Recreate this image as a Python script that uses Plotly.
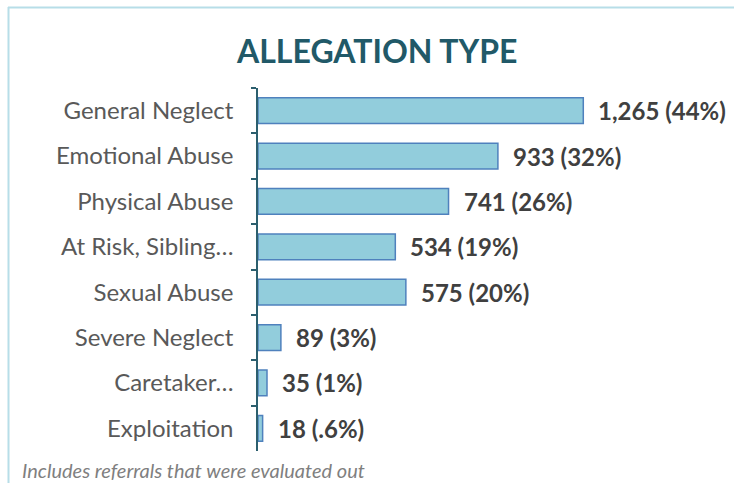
import plotly.graph_objects as go

categories = ["General Neglect", "Emotional Abuse", "Physical Abuse", "At Risk, Sibling…",
              "Sexual Abuse", "Severe Neglect", "Caretaker…", "Exploitation"]
counts = [1265, 933, 741, 534, 575, 89, 35, 18]
value_labels = ["1,265 (44%)", "933 (32%)", "741 (26%)", "534 (19%)",
                "575 (20%)", "89 (3%)", "35 (1%)", "18 (.6%)"]

W, H = 734, 483
ml, mr, mt, mb = 258, 116, 88, 32
pw, ph = W - ml - mr, H - mt - mb

def px_x(p):
    return (p - ml) / pw

def px_y(p):
    return (H - mb - p) / ph

fig = go.Figure()
fig.add_trace(go.Bar(
    x=counts, y=categories, orientation="h",
    marker=dict(color="#92CDDC", line=dict(color="#4F81BD", width=1.5)),
    width=0.57, hoverinfo="skip",
))
for c, v, t in zip(categories, counts, value_labels):
    fig.add_annotation(x=v, y=c, text="<b>" + t + "</b>", showarrow=False,
                       xanchor="left", xshift=13,
                       font=dict(family="Lato", size=24, color="#404040"))

fig.add_annotation(x=px_x(376), y=px_y(51), xref="paper", yref="paper",
                   xanchor="center", yanchor="middle",
                   text="<b>ALLEGATION TYPE</b>", showarrow=False,
                   font=dict(family="Lato", size=32, color="#215968"))
fig.add_annotation(x=px_x(20), y=px_y(470), xref="paper", yref="paper",
                   text="<i>Includes referrals that were evaluated out</i>", showarrow=False,
                   xanchor="left", yanchor="middle",
                   font=dict(family="Lato", size=20, color="#7F7F7F"))

border = "#B7DEE8"
fig.add_shape(type="line", xref="paper", yref="paper", x0=px_x(8.5), x1=px_x(8.5),
              y0=px_y(7), y1=px_y(490), line=dict(color=border, width=2))
fig.add_shape(type="line", xref="paper", yref="paper", x0=px_x(8), x1=px_x(740),
              y0=px_y(7.5), y1=px_y(7.5), line=dict(color=border, width=2))

fig.update_layout(
    width=W, height=H, margin=dict(l=ml, r=mr, t=mt, b=mb),
    paper_bgcolor="white", plot_bgcolor="white", showlegend=False,
    xaxis=dict(range=[0, 1400], visible=False, fixedrange=True),
    yaxis=dict(autorange="reversed", showline=True, linecolor="#2C5F6E", linewidth=1.5,
               ticks="outside", ticklen=5, tickcolor="#2C5F6E", tickwidth=1.5,
               tickson="boundaries", ticklabelstandoff=18, showgrid=False,
               tickfont=dict(family="Lato", size=24, color="#595959"), fixedrange=True),
)
fig.write_html("out.html")
